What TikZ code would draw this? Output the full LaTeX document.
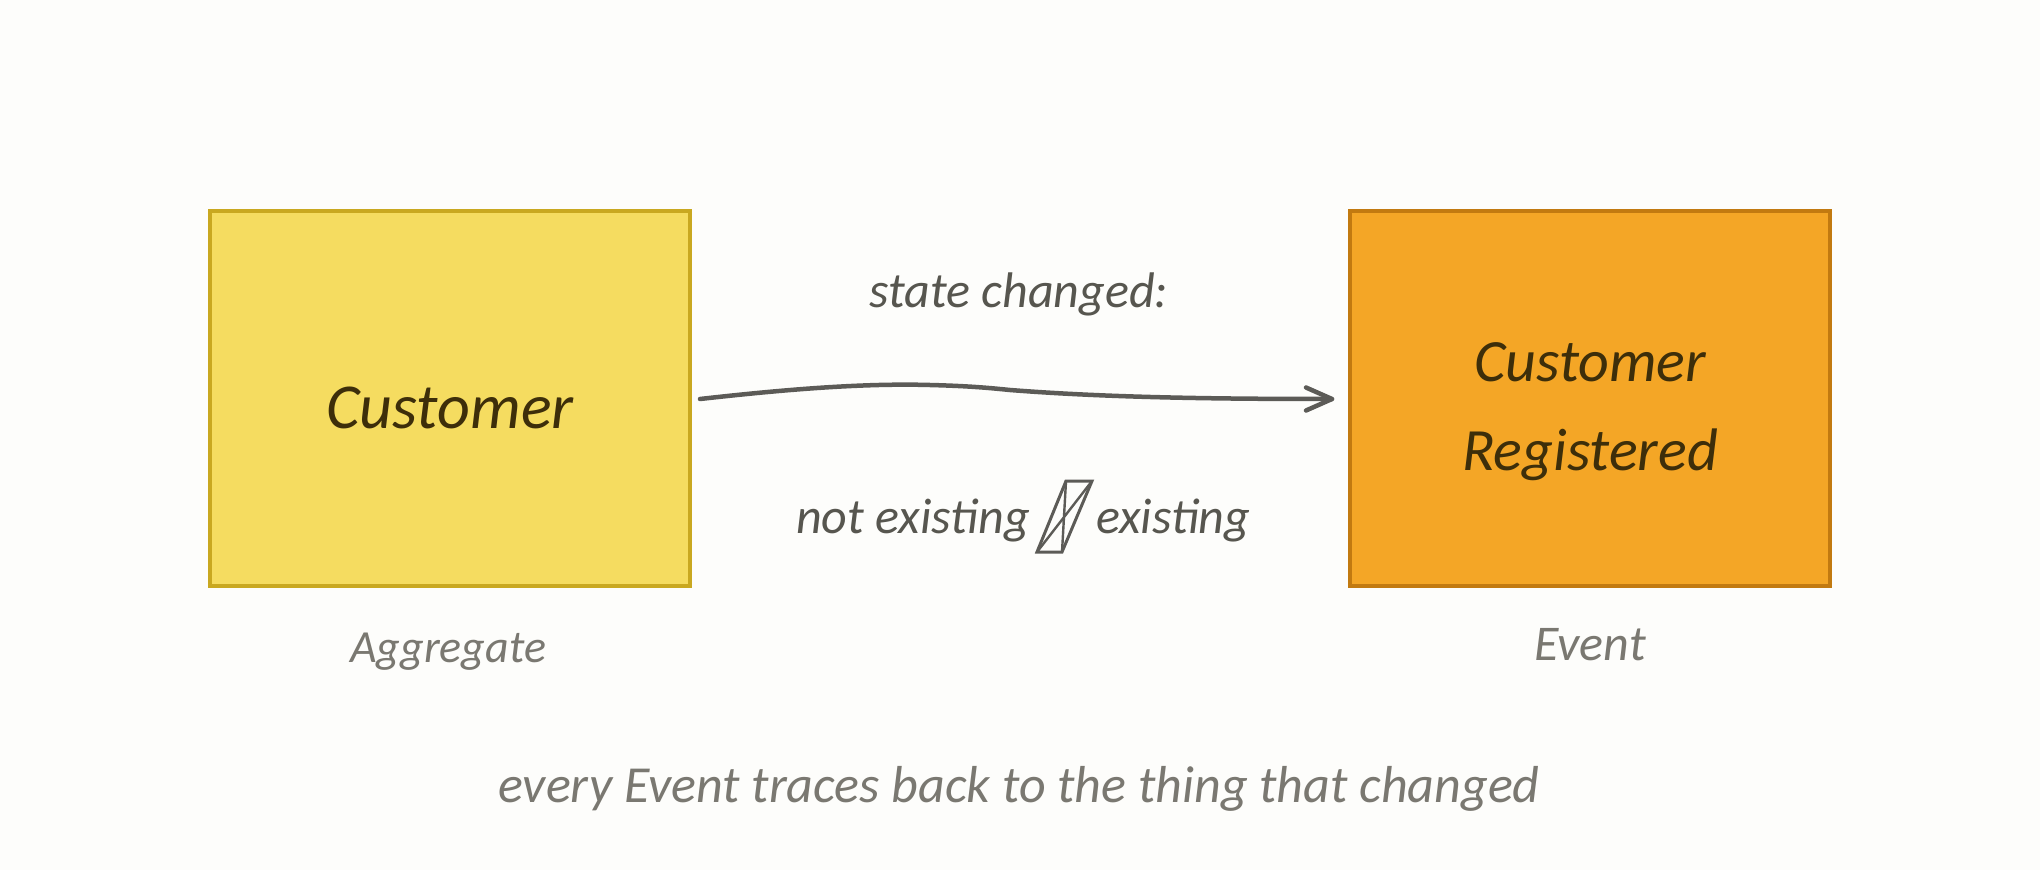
\documentclass[tikz,border=0pt]{standalone}
\usepackage{fontspec}
\setmainfont{Carlito}
\usetikzlibrary{calc}
\definecolor{bg}{HTML}{FDFDFB}
\definecolor{aggfill}{HTML}{F5DC60}
\definecolor{aggdraw}{HTML}{C9A820}
\definecolor{evfill}{HTML}{F4A626}
\definecolor{evdraw}{HTML}{C27A10}
\definecolor{boxtext}{HTML}{3D2E0A}
\definecolor{labtext}{HTML}{57564F}
\definecolor{captext}{HTML}{7A7871}
\definecolor{arrowc}{HTML}{5C5B57}
\tikzset{
  card/.style={draw, line width=4pt, minimum width=480pt, minimum height=375pt, inner sep=0pt},
  aggcard/.style={card, fill=aggfill, draw=aggdraw},
  evcard/.style={card, fill=evfill, draw=evdraw},
  cardtext/.style={text=boxtext, inner sep=0pt, anchor=base, align=center},
  lab/.style={text=labtext, inner sep=0pt, anchor=base, font=\fontsize{50}{58}\selectfont\itshape},
  caption/.style={text=captext, inner sep=0pt, anchor=base, font=\fontsize{46}{54}\selectfont\itshape},
  flow/.style={draw=arrowc, line width=4.5pt, line cap=round, line join=round}
}
\begin{document}
\begin{tikzpicture}[x=1pt, y=-1pt]
\fill[bg] (0,0) rectangle (2040,870);
\useasboundingbox (0,0) rectangle (2040,870);
\node[aggcard] (agg) at (450,398.5) {};
\node[evcard] (ev) at (1590,398.5) {};
\node[cardtext, font=\fontsize{64}{72}\selectfont\itshape] (aggt) at (450,428) {Customer};
\node[cardtext, font=\fontsize{60}{89}\selectfont\itshape] (evt1) at (1590,381) {Customer};
\node[cardtext, font=\fontsize{60}{89}\selectfont\itshape] (evt2) at (1590,470) {Registered};
\node[lab] (state) at (1019,307) {state changed:};
\node[lab, anchor=base east] (notex) at (1030,533) {not existing};
\node[lab, anchor=base west] (ex) at (1096,533) {existing};
\node[caption] (aggl) at (448,662) {Aggregate};
\node[caption, font=\fontsize{50}{58}\selectfont\itshape] (evl) at (1590,660) {Event};
\node[caption, font=\fontsize{52}{60}\selectfont\itshape] (foot) at (1019,802) {every Event traces back to the thing that changed};
% arrow
\coordinate (s) at ($(agg.east)+(8,0.5)$);
\coordinate (e) at ($(ev.west)+(-16,0.5)$);
\draw[flow] (s) .. controls (780,390) and (860,383) .. (930,385)
  .. controls (970,386) and (990,388) .. (1010,390)
  .. controls (1100,397) and (1200,399) .. (e);
\draw[flow] ($(e)+(-26,-11.5)$) -- (e) -- ($(e)+(-26,11.5)$);
% missing glyph box
\coordinate (gtl) at (1066,481);
\coordinate (gtr) at (1092,481);
\coordinate (gbr) at (1062,552);
\coordinate (gbl) at (1037,552);
\draw[draw=arrowc, line width=3pt, line join=miter] (gtl) -- (gtr) -- (gbr) -- (gbl) -- cycle;
\draw[draw=arrowc, line width=2.4pt] (gtl) -- (gbr) (gtr) -- (gbl);
\end{tikzpicture}
\end{document}
